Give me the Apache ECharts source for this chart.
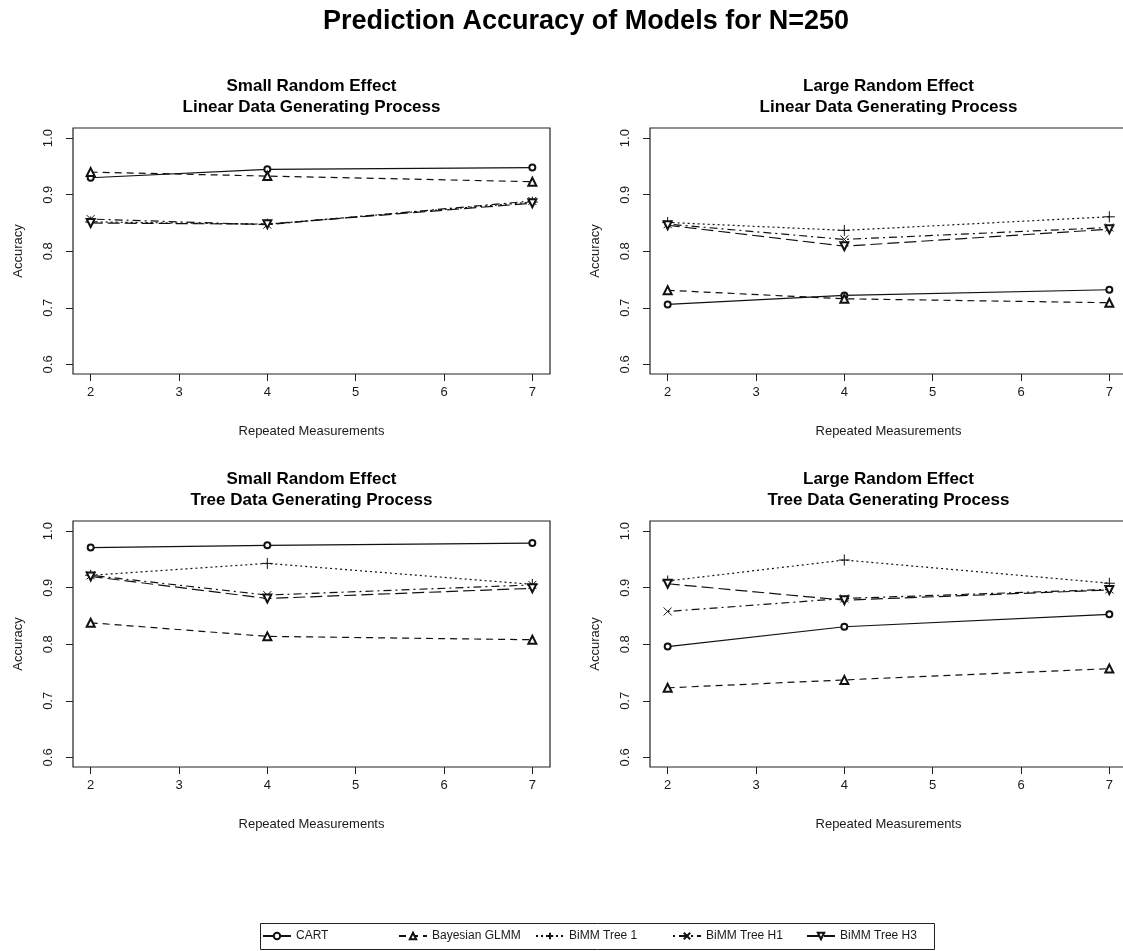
<!DOCTYPE html>
<html>
<head>
<meta charset="utf-8">
<script src="https://cdn.jsdelivr.net/npm/echarts@6/dist/echarts.min.js"></script>
<style>
  html, body { margin: 0; padding: 0; background: #fff; }
  #main { width: 1123px; height: 951px; }
</style>
</head>
<body>
<div id="main"></div>
<script>
// repeated measurements on the x axis
const xValues = [2, 4, 7];
const xTicks = [2, 3, 4, 5, 6, 7];
const yTicks = [0.6, 0.7, 0.8, 0.9, 1.0];
const modelNames = ['CART', 'Bayesian GLMM', 'BiMM Tree 1', 'BiMM Tree H1', 'BiMM Tree H3'];

// Small random effect, linear DGP
const slCart = [0.930, 0.945, 0.948];
const slGlmm = [0.940, 0.933, 0.923];
const slTree1 = [0.852, 0.848, 0.887];
const slTreeH1 = [0.857, 0.847, 0.889];
const slTreeH3 = [0.850, 0.848, 0.885];

// Large random effect, linear DGP
const llCart = [0.706, 0.722, 0.732];
const llGlmm = [0.731, 0.716, 0.709];
const llTree1 = [0.851, 0.837, 0.861];
const llTreeH1 = [0.848, 0.821, 0.842];
const llTreeH3 = [0.846, 0.809, 0.839];

// Small random effect, tree DGP
const stCart = [0.971, 0.975, 0.979];
const stGlmm = [0.838, 0.814, 0.808];
const stTree1 = [0.922, 0.943, 0.906];
const stTreeH1 = [0.922, 0.887, 0.905];
const stTreeH3 = [0.920, 0.881, 0.899];

// Large random effect, tree DGP
const ltCart = [0.796, 0.831, 0.853];
const ltGlmm = [0.723, 0.737, 0.757];
const ltTree1 = [0.912, 0.949, 0.908];
const ltTreeH1 = [0.858, 0.881, 0.897];
const ltTreeH3 = [0.907, 0.878, 0.896];

const panels = [
  { title: 'Small Random Effect\nLinear Data Generating Process', left: 73, top: 128, data: [slCart, slGlmm, slTree1, slTreeH1, slTreeH3] },
  { title: 'Large Random Effect\nLinear Data Generating Process', left: 650, top: 128, data: [llCart, llGlmm, llTree1, llTreeH1, llTreeH3] },
  { title: 'Small Random Effect\nTree Data Generating Process', left: 73, top: 521, data: [stCart, stGlmm, stTree1, stTreeH1, stTreeH3] },
  { title: 'Large Random Effect\nTree Data Generating Process', left: 650, top: 521, data: [ltCart, ltGlmm, ltTree1, ltTreeH1, ltTreeH3] }
];

const plotW = 477, plotH = 246;
const font = 'Liberation Sans, Arial, sans-serif';
const ink = '#1a1a1a';

// line type + marker per model
const styles = [
  { type: 'solid', symbol: 'emptyCircle', size: 6, rotate: 0 },
  { type: [7, 5], symbol: 'emptyTriangle', size: 8, rotate: 0 },
  { type: [2, 3], symbol: 'path://M5,0L5,10M0,5L10,5', size: 11, rotate: 0 },
  { type: [2, 4, 8, 4], symbol: 'path://M0,0L10,10M0,10L10,0', size: 8, rotate: 0 },
  { type: [12, 5], symbol: 'emptyTriangle', size: 8, rotate: 180 }
];
// legend entry x positions (R legend spacing)
const legendLefts = [262, 398, 535, 672, 806];

const grids = [], xAxes = [], yAxes = [], series = [];
const titles = [{
  text: 'Prediction Accuracy of Models for N=250',
  left: 586, textAlign: 'center', top: 8, padding: 0,
  textStyle: { fontFamily: font, fontSize: 27, fontWeight: 'bold', color: '#000' }
}];

panels.forEach((p, i) => {
  // the right-hand panels run past the page edge, as in the source image
  grids.push({
    left: p.left, top: p.top, width: plotW, height: plotH,
    outerBoundsMode: 'none', containLabel: false,
    show: true, borderColor: '#222', borderWidth: 1.2, backgroundColor: 'transparent'
  });
  titles.push({
    text: p.title,
    left: p.left + plotW / 2, textAlign: 'center',
    top: p.top - 52, padding: 0,
    textStyle: { fontFamily: font, fontSize: 17, fontWeight: 'bold', color: '#000', lineHeight: 21 }
  });
  xAxes.push({
    type: 'value', gridIndex: i, min: 1.8, max: 7.2,
    name: 'Repeated Measurements', nameLocation: 'middle', nameGap: 51,
    nameTextStyle: { fontFamily: font, fontSize: 13, color: ink },
    axisLine: { show: false },
    axisTick: { show: true, inside: false, length: 7, customValues: xTicks, lineStyle: { color: '#222' } },
    axisLabel: { customValues: xTicks, margin: 12, fontFamily: font, fontSize: 13, color: ink },
    splitLine: { show: false }
  });
  yAxes.push({
    type: 'value', gridIndex: i, min: 0.583, max: 1.018,
    name: 'Accuracy', nameLocation: 'middle', nameGap: 48,
    nameTextStyle: { fontFamily: font, fontSize: 13, color: ink },
    axisLine: { show: false },
    axisTick: { show: true, inside: false, length: 7, customValues: yTicks, lineStyle: { color: '#222' } },
    axisLabel: {
      customValues: yTicks, rotate: 90, margin: 18,
      fontFamily: font, fontSize: 13, color: ink,
      formatter: v => v.toFixed(1)
    },
    splitLine: { show: false }
  });
  p.data.forEach((vals, k) => {
    const s = styles[k];
    series.push({
      name: modelNames[k],
      type: 'line',
      xAxisIndex: i, yAxisIndex: i,
      data: xValues.map((x, j) => [x, vals[j]]),
      symbol: s.symbol, symbolSize: s.size, symbolRotate: s.rotate,
      showAllSymbol: true,
      lineStyle: { color: '#111', width: 1.2, type: s.type },
      itemStyle: { color: '#111', borderColor: '#111', borderWidth: 1 },
      emphasis: { disabled: true },
      z: 2 + k
    });
  });
});

const legends = modelNames.map((name, k) => ({
  data: [name],
  left: legendLefts[k], top: 930,
  padding: 0,
  itemWidth: 28, itemHeight: 8, itemGap: 0,
  selectedMode: false,
  textStyle: { fontFamily: font, fontSize: 12, color: ink }
}));

const chart = echarts.init(document.getElementById('main'), null, { renderer: 'canvas' });
chart.setOption({
  backgroundColor: '#fff',
  animation: false,
  title: titles,
  grid: grids,
  xAxis: xAxes,
  yAxis: yAxes,
  legend: legends,
  graphic: [{
    type: 'rect', left: 258, top: 921,
    shape: { width: 674, height: 26 },
    style: { fill: 'none', stroke: '#222', lineWidth: 1 }
  }],
  series: series
});
</script>
</body>
</html>
